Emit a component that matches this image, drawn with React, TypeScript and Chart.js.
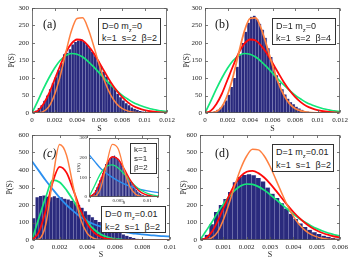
import React, { useEffect, useRef } from "react";
import { Chart, registerables } from "chart.js";
Chart.register(...registerables);

// ---------- data ----------
const S_AB = [0, 0.0005, 0.001, 0.0015, 0.002, 0.0025, 0.003, 0.0035, 0.004, 0.0045, 0.005, 0.0055, 0.006, 0.0065, 0.007, 0.0075, 0.008, 0.0085, 0.009, 0.0095, 0.01, 0.0105, 0.011, 0.0115, 0.012];
const AB_GREEN = [0, 33, 68, 100, 128, 150, 164, 170, 168, 160, 147, 131, 114, 96, 80, 65, 51, 40, 30, 23, 17, 12, 9, 6, 4];
const AB_RED = [0, 6, 25, 55, 95, 135, 172, 198, 210, 207, 192, 170, 143, 115, 88, 65, 46, 31, 20, 13, 8, 5, 3, 1.5, 1];
const AB_ORANGE = [0, 0.5, 4, 18, 52, 105, 172, 234, 270, 272, 240, 190, 135, 87, 51, 27, 13, 6, 2.5, 1, 0.4, 0, 0, 0, 0];
const HIST_BIN_AB = 0.00025;
const HIST_A = [3, 7, 14, 22, 35, 50, 68, 85, 102, 122, 142, 168, 172, 182, 196, 203, 207, 211, 203, 196, 186, 174, 162, 148, 134, 118, 104, 90, 78, 70, 55, 45, 36, 28, 22, 16, 12, 9, 6, 4, 2];
const HIST_B = [0, 1, 3, 5, 9, 15, 24, 36, 52, 74, 100, 132, 168, 200, 232, 258, 275, 278, 268, 255, 238, 215, 185, 160, 132, 108, 86, 68, 53, 41, 31, 25, 18, 13, 9, 6, 4, 3, 2, 1];

const S_C = [0, 0.0005, 0.001, 0.0015, 0.002, 0.0025, 0.003, 0.0035, 0.004, 0.0045, 0.005, 0.0055, 0.006, 0.0065, 0.007, 0.0075, 0.008, 0.0085, 0.009, 0.0095, 0.01];
const C_BLUE = [450, 395, 340, 290, 242, 200, 165, 133, 108, 90, 76, 65, 56, 48, 42, 36, 32, 28, 25, 22, 20];
const C_GREEN = [0, 125, 245, 342, 330, 285, 225, 160, 102, 60, 32, 16, 7, 3, 1, 0, 0, 0, 0, 0, 0];
const C_RED = [0, 45, 170, 330, 418, 385, 285, 175, 92, 42, 17, 6, 2, 0, 0, 0, 0, 0, 0, 0, 0];
const C_ORANGE = [0, 5, 90, 350, 545, 485, 300, 125, 38, 9, 2, 0, 0, 0, 0, 0, 0, 0, 0, 0, 0];
const HIST_BIN_C = 0.00025;
const HIST_C = [125, 245, 252, 255, 248, 245, 250, 242, 245, 236, 232, 225, 215, 200, 185, 165, 145, 130, 115, 103, 92, 82, 72, 61, 50, 40, 32, 24, 17, 11, 7, 4, 2, 1, 0, 0, 0, 0, 0, 0];

const S_D = [0, 0.00025, 0.0005, 0.00075, 0.001, 0.00125, 0.0015, 0.00175, 0.002, 0.00225, 0.0025, 0.00275, 0.003, 0.00325, 0.0035, 0.00375, 0.004, 0.00425, 0.0045, 0.00475, 0.005, 0.00525, 0.0055, 0.00575, 0.006];
const D_GREEN = [0, 50, 100, 155, 205, 250, 285, 310, 320, 318, 305, 285, 260, 232, 203, 175, 148, 123, 101, 82, 65, 51, 40, 30, 23];
const D_RED = [0, 10, 45, 105, 180, 255, 320, 365, 390, 395, 382, 357, 322, 282, 240, 198, 160, 126, 97, 73, 54, 40, 29, 20, 14];
const D_ORANGE = [0, 2, 12, 45, 115, 210, 315, 410, 480, 518, 515, 480, 420, 345, 268, 195, 135, 88, 55, 32, 18, 10, 5, 2.5, 1];
const HIST_BIN_D = 0.0002;
const HIST_D = [10, 30, 90, 160, 200, 235, 275, 330, 360, 372, 376, 370, 355, 335, 300, 265, 240, 210, 180, 150, 120, 95, 75, 58, 45, 34, 25, 18, 12, 8];

const S_IN = [0, 0.001, 0.002, 0.003, 0.004, 0.005, 0.006, 0.007, 0.008, 0.009, 0.01, 0.011, 0.012];
const IN_BLUE = [215, 180, 145, 120, 100, 82, 67, 55, 45, 37, 31, 26, 22];
const IN_GREEN = [0, 60, 120, 155, 163, 148, 118, 85, 55, 33, 18, 9, 5];
const IN_RED = [0, 20, 85, 165, 205, 192, 145, 90, 48, 22, 9, 3, 1];
const IN_ORANGE = [0, 3, 45, 165, 268, 245, 140, 52, 14, 3, 0.5, 0, 0];

// ---------- styles ----------
const ORANGE = "#ff8040";
const RED = "#ff0a0a";
const GREEN = "#14e67a";
const BLUE = "#2b8ff0";
const BAR = "#2a2a7d";
const BAR_EDGE = "#b8b8e0";
const TXT = "#262626";

Chart.defaults.font.family = '"Liberation Serif", "Times New Roman", serif';

const fmtX = (v: any) => String(parseFloat(Number(v).toFixed(6)));

const boxPlugin = {
  id: "box",
  beforeDatasetsDraw(chart: any, _a: any, opts: any) {
    if (opts && opts.bg) {
      const a = chart.chartArea;
      const ctx = chart.ctx;
      ctx.save();
      ctx.fillStyle = "#fff";
      ctx.fillRect(a.left, a.top, a.right - a.left, a.bottom - a.top);
      ctx.restore();
    }
  },
  afterDraw(chart: any, _a: any, opts: any) {
    const { ctx, chartArea: a, scales } = chart;
    const L = (opts && opts.tick) || 2.5;
    ctx.save();
    ctx.strokeStyle = "#555";
    ctx.lineWidth = 0.8;
    const l = Math.round(a.left) + 0.5, r = Math.round(a.right) - 0.5;
    const t = Math.round(a.top) + 0.5, b = Math.round(a.bottom) - 0.5;
    ctx.strokeRect(l, t, r - l, b - t);
    ctx.beginPath();
    scales.x.ticks.forEach((tk: any) => {
      const px = Math.round(scales.x.getPixelForValue(tk.value)) + 0.5;
      ctx.moveTo(px, b); ctx.lineTo(px, b - L);
      ctx.moveTo(px, t); ctx.lineTo(px, t + L);
    });
    scales.y.ticks.forEach((tk: any) => {
      const py = Math.round(scales.y.getPixelForValue(tk.value)) + 0.5;
      ctx.moveTo(l, py); ctx.lineTo(l + L, py);
      ctx.moveTo(r, py); ctx.lineTo(r - L, py);
    });
    ctx.stroke();
    ctx.restore();
  },
};

type Curve = { xs: number[]; ys: number[]; color: string; width: number };
type PanelCfg = {
  left: number; top: number; w: number; h: number;
  yW: number; xH: number; padTop: number; padRight: number;
  xMax: number; xStep: number; yMax: number; yStep: number;
  hist: number[]; bin: number; curves: Curve[];
  tickFont: number; titleFont: number; yTitlePad: number; xTitlePad: number;
  tickPadX: number; tickPadY: number; bg?: boolean; tickLen?: number;
};

function Panel({ cfg }: { cfg: PanelCfg }) {
  const ref = useRef<HTMLCanvasElement | null>(null);
  useEffect(() => {
    if (!ref.current) return;
    const datasets: any[] = cfg.curves.map((c, k) => ({
      type: "line",
      data: c.ys.map((y, i) => ({ x: c.xs[i], y })),
      borderColor: c.color,
      borderWidth: c.width,
      pointRadius: 0,
      fill: false,
      cubicInterpolationMode: "monotone",
      order: k,
    }));
    datasets.push({
      type: "bar",
      data: cfg.hist.map((y, i) => ({ x: (i + 0.5) * cfg.bin, y })),
      backgroundColor: BAR,
      borderColor: BAR_EDGE,
      borderWidth: { left: 0, right: 0.6, top: 0, bottom: 0 },
      barPercentage: 1,
      categoryPercentage: 1,
      order: 20,
    });
    const chart = new Chart(ref.current, {
      type: "bar",
      data: { datasets },
      plugins: [boxPlugin as any],
      options: {
        responsive: false,
        maintainAspectRatio: false,
        animation: false,
        layout: { padding: { left: 0, top: cfg.padTop, right: cfg.padRight, bottom: 0 } },
        plugins: {
          legend: { display: false },
          tooltip: { enabled: false },
          box: { bg: !!cfg.bg, tick: cfg.tickLen || 2.5 },
        } as any,
        scales: {
          x: {
            type: "linear",
            min: 0,
            max: cfg.xMax,
            offset: false,
            grid: { display: false, drawTicks: false },
            border: { display: false },
            ticks: {
              stepSize: cfg.xStep,
              autoSkip: false,
              maxRotation: 0,
              includeBounds: false,
              padding: cfg.tickPadX,
              color: TXT,
              font: { size: cfg.tickFont },
              callback: (v: any) => fmtX(v),
            },
            title: {
              display: true,
              text: "S",
              color: TXT,
              font: { size: cfg.titleFont },
              padding: { top: 0, bottom: cfg.xTitlePad },
            },
            afterFit: (s: any) => { s.height = cfg.xH; },
          },
          y: {
            type: "linear",
            min: 0,
            max: cfg.yMax,
            grid: { display: false, drawTicks: false },
            border: { display: false },
            ticks: {
              stepSize: cfg.yStep,
              padding: cfg.tickPadY,
              color: TXT,
              font: { size: cfg.tickFont },
            },
            title: {
              display: true,
              text: "P(S)",
              color: TXT,
              font: { size: cfg.titleFont },
              padding: { top: cfg.yTitlePad, bottom: 0 },
            },
            afterFit: (s: any) => { s.width = cfg.yW; },
          },
        } as any,
      },
    } as any);
    return () => chart.destroy();
  }, []);
  return (
    <canvas
      ref={ref}
      width={cfg.w}
      height={cfg.h}
      style={{ position: "absolute", left: cfg.left, top: cfg.top, width: cfg.w, height: cfg.h }}
    />
  );
}

const curvesAB = (orangeW: number): Curve[] => [
  { xs: S_AB, ys: AB_ORANGE, color: ORANGE, width: orangeW },
  { xs: S_AB, ys: AB_RED, color: RED, width: 1.8 },
  { xs: S_AB, ys: AB_GREEN, color: GREEN, width: 1.7 },
];

const PANEL_A: PanelCfg = {
  left: 0, top: 0, w: 180, h: 135, yW: 32, xH: 22, padTop: 8, padRight: 13,
  xMax: 0.012, xStep: 0.002, yMax: 300, yStep: 50, hist: HIST_A, bin: HIST_BIN_AB,
  curves: curvesAB(1.5), tickFont: 7, titleFont: 8, yTitlePad: 7.2, xTitlePad: 1.2, tickPadX: 3, tickPadY: 3,
};
const PANEL_B: PanelCfg = {
  left: 175, top: 0, w: 176, h: 135, yW: 30, xH: 22, padTop: 8, padRight: 9,
  xMax: 0.012, xStep: 0.002, yMax: 300, yStep: 50, hist: HIST_B, bin: HIST_BIN_AB,
  curves: curvesAB(1.8), tickFont: 7, titleFont: 8, yTitlePad: 7.2, xTitlePad: 1.2, tickPadX: 3, tickPadY: 3,
};
const PANEL_C: PanelCfg = {
  left: 0, top: 125, w: 180, h: 145, yW: 32, xH: 30, padTop: 10, padRight: 10,
  xMax: 0.01, xStep: 0.002, yMax: 600, yStep: 100, hist: HIST_C, bin: HIST_BIN_C,
  curves: [
    { xs: S_C, ys: C_ORANGE, color: ORANGE, width: 1.5 },
    { xs: S_C, ys: C_RED, color: RED, width: 1.8 },
    { xs: S_C, ys: C_GREEN, color: GREEN, width: 1.7 },
    { xs: S_C, ys: C_BLUE, color: BLUE, width: 1.8 },
  ],
  tickFont: 7, titleFont: 8, yTitlePad: 4.7, xTitlePad: 10.2, tickPadX: 3, tickPadY: 3,
};
const PANEL_D: PanelCfg = {
  left: 175, top: 125, w: 176, h: 145, yW: 25, xH: 30, padTop: 10, padRight: 10,
  xMax: 0.006, xStep: 0.001, yMax: 600, yStep: 100, hist: HIST_D, bin: HIST_BIN_D,
  curves: [
    { xs: S_D, ys: D_ORANGE, color: ORANGE, width: 1.5 },
    { xs: S_D, ys: D_RED, color: RED, width: 1.8 },
    { xs: S_D, ys: D_GREEN, color: GREEN, width: 1.7 },
  ],
  tickFont: 7, titleFont: 8, yTitlePad: 4.2, xTitlePad: 10.2, tickPadX: 3, tickPadY: 3,
};
const PANEL_INSET: PanelCfg = {
  left: 70, top: 132, w: 95, h: 80, yW: 19, xH: 15, padTop: 6, padRight: 6,
  xMax: 0.012, xStep: 0.005, yMax: 300, yStep: 100, hist: HIST_A, bin: HIST_BIN_AB,
  curves: [
    { xs: S_IN, ys: IN_ORANGE, color: ORANGE, width: 1.3 },
    { xs: S_IN, ys: IN_RED, color: RED, width: 1.4 },
    { xs: S_IN, ys: IN_GREEN, color: GREEN, width: 1.3 },
    { xs: S_IN, ys: IN_BLUE, color: BLUE, width: 1.4 },
  ],
  tickFont: 5, titleFont: 5, yTitlePad: 5.5, xTitlePad: 6, tickPadX: 1, tickPadY: 2, bg: true, tickLen: 1.5,
};

const boxStyle = (left: number, top: number, width: number, height: number, lh = 12): React.CSSProperties => ({
  position: "absolute", left, top, width, height, boxSizing: "border-box",
  border: "1.4px solid #333", background: "#fff", color: "#222",
  fontFamily: '"Liberation Sans", Arial, sans-serif', fontSize: 9, lineHeight: lh + "px",
  padding: "1px 0 0 3px", whiteSpace: "pre",
});
const Sub = ({ c }: { c: string }) => (
  <span style={{ fontSize: 6, position: "relative", top: 2.5, lineHeight: 0 }}>{c}</span>
);
const labelStyle = (left: number, top: number, italic = false): React.CSSProperties => ({
  position: "absolute", left, top, fontFamily: '"Liberation Serif", serif', fontSize: 12,
  lineHeight: "12px", color: "#111", fontStyle: italic ? "italic" : "normal",
});

export default function App() {
  return (
    <div style={{ position: "fixed", left: 0, top: 0, width: 351, height: 270, background: "#fff", overflow: "hidden" }}>
      <Panel cfg={PANEL_A} />
      <Panel cfg={PANEL_B} />
      <Panel cfg={PANEL_C} />
      <Panel cfg={PANEL_D} />
      <Panel cfg={PANEL_INSET} />
      <div style={labelStyle(43, 18)}>(a)</div>
      <div style={labelStyle(215, 18)}>(b)</div>
      <div style={labelStyle(43, 147, true)}>(c)</div>
      <div style={labelStyle(215, 147)}>(d)</div>
      <div style={boxStyle(98, 18, 63, 27)}>
        {"D=0 m"}<Sub c="z" />{"=0"}{"\n"}{"k=1  s=2  β=2"}
      </div>
      <div style={boxStyle(272, 18, 64, 27)}>
        {"D=1 m"}<Sub c="z" />{"=0"}{"\n"}{"k=1  s=2  β=4"}
      </div>
      <div style={boxStyle(101, 206, 65, 27, 12.5)}>
        {"D=0 m"}<Sub c="z" />{"=0.01"}{"\n"}{"k=2  s=1  β=2"}
      </div>
      <div style={boxStyle(272, 144, 62, 28, 12.5)}>
        {"D=1 m"}<Sub c="z" />{"=0.01"}{"\n"}{"k=1  s=1  β=2"}
      </div>
      <div style={{ ...boxStyle(130, 143, 27, 31, 9), fontSize: 8, padding: "1px 0 0 3px" }}>
        {"k=1\ns=1\nβ=2"}
      </div>
    </div>
  );
}
